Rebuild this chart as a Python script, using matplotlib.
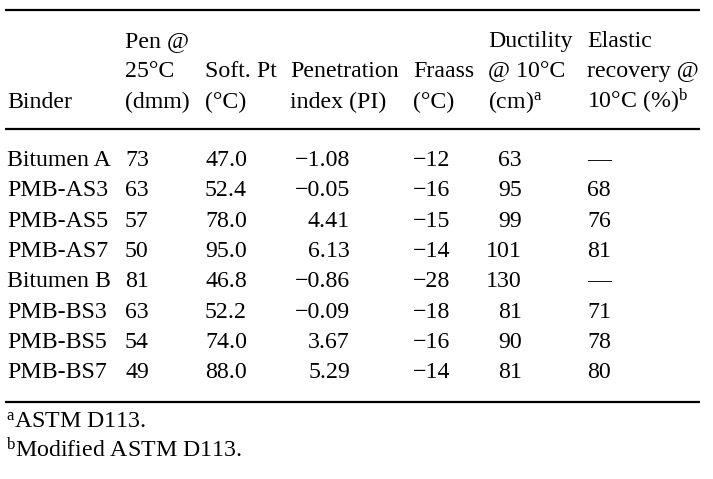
import matplotlib
matplotlib.use("Agg")
import matplotlib.pyplot as plt

plt.rcParams['font.family'] = ['Liberation Serif', 'DejaVu Serif']
plt.rcParams['mathtext.fontset'] = 'custom'
plt.rcParams['mathtext.rm'] = 'Liberation Serif'
plt.rcParams['mathtext.it'] = 'Liberation Serif:italic'

binders = ["Bitumen A", "PMB-AS3", "PMB-AS5", "PMB-AS7",
           "Bitumen B", "PMB-BS3", "PMB-BS5", "PMB-BS7"]
pen = [73, 63, 57, 50, 81, 63, 54, 49]
soft_pt = [47.0, 52.4, 78.0, 95.0, 46.8, 52.2, 74.0, 88.0]
pi = [-1.08, -0.05, 4.41, 6.13, -0.86, -0.09, 3.67, 5.29]
fraass = [-12, -16, -15, -14, -28, -18, -16, -14]
ductility = [63, 95, 99, 101, 130, 81, 90, 81]
elastic = [None, 68, 76, 81, None, 71, 78, 80]

headers = [
    ["", "", "Binder"],
    ["Pen @", "25\u00b0C", "(dmm)"],
    ["", "Soft. Pt", "(\u00b0C)"],
    ["", "Penetration", "index (PI)"],
    ["", "Fraass", "(\u00b0C)"],
    ["Ductility", "@ 10\u00b0C", r"(cm)$^{\mathrm{a}}$"],
    ["Elastic", "recovery @", "10\u00b0C (%)$^{\\mathrm{b}}$"],
]
footnotes = [r"$^{\mathrm{a}}$ASTM D113.", r"$^{\mathrm{b}}$Modified ASTM D113."]


def fmt_num(v, d):
    s = f"{abs(v):.{d}f}"
    return ("\u2212" + s) if v < 0 else s


W, H = 713, 479
fig = plt.figure(figsize=(W / 100, H / 100), dpi=100)
ax = fig.add_axes([0, 0, 1, 1])
ax.set_xlim(0, W)
ax.set_ylim(H, 0)
ax.axis('off')

fs = 17.2
col_x = [7, 125, 205, 290, 413, 488, 587]
head_base = [47, 77, 108]
for x, lines in zip(col_x, headers):
    for i, t in enumerate(lines):
        if t:
            ax.text(x, head_base[i], t, fontsize=fs, ha='left', va='baseline')

# rules
ax.hlines([10, 129, 402], 5, 700, color='black', lw=1.6)

row0, dy = 166, 30.3
for i in range(len(binders)):
    y = row0 + i * dy
    ax.text(7, y, binders[i], fontsize=fs, ha='left', va='baseline')
    ax.text(125, y, str(pen[i]), fontsize=fs, ha='left', va='baseline')
    ax.text(205, y, f"{soft_pt[i]:.1f}", fontsize=fs, ha='left', va='baseline')
    ax.text(350, y, fmt_num(pi[i], 2), fontsize=fs, ha='right', va='baseline')
    ax.text(413, y, fmt_num(fraass[i], 0), fontsize=fs, ha='left', va='baseline')
    ax.text(522, y, str(ductility[i]), fontsize=fs, ha='right', va='baseline')
    ev = "\u2014" if elastic[i] is None else str(elastic[i])
    ax.text(587, y, ev, fontsize=fs, ha='left', va='baseline')

for i, t in enumerate(footnotes):
    ax.text(6, 428 + i * 29, t, fontsize=fs, ha='left', va='baseline')

fig.savefig("out.png", dpi=100)
